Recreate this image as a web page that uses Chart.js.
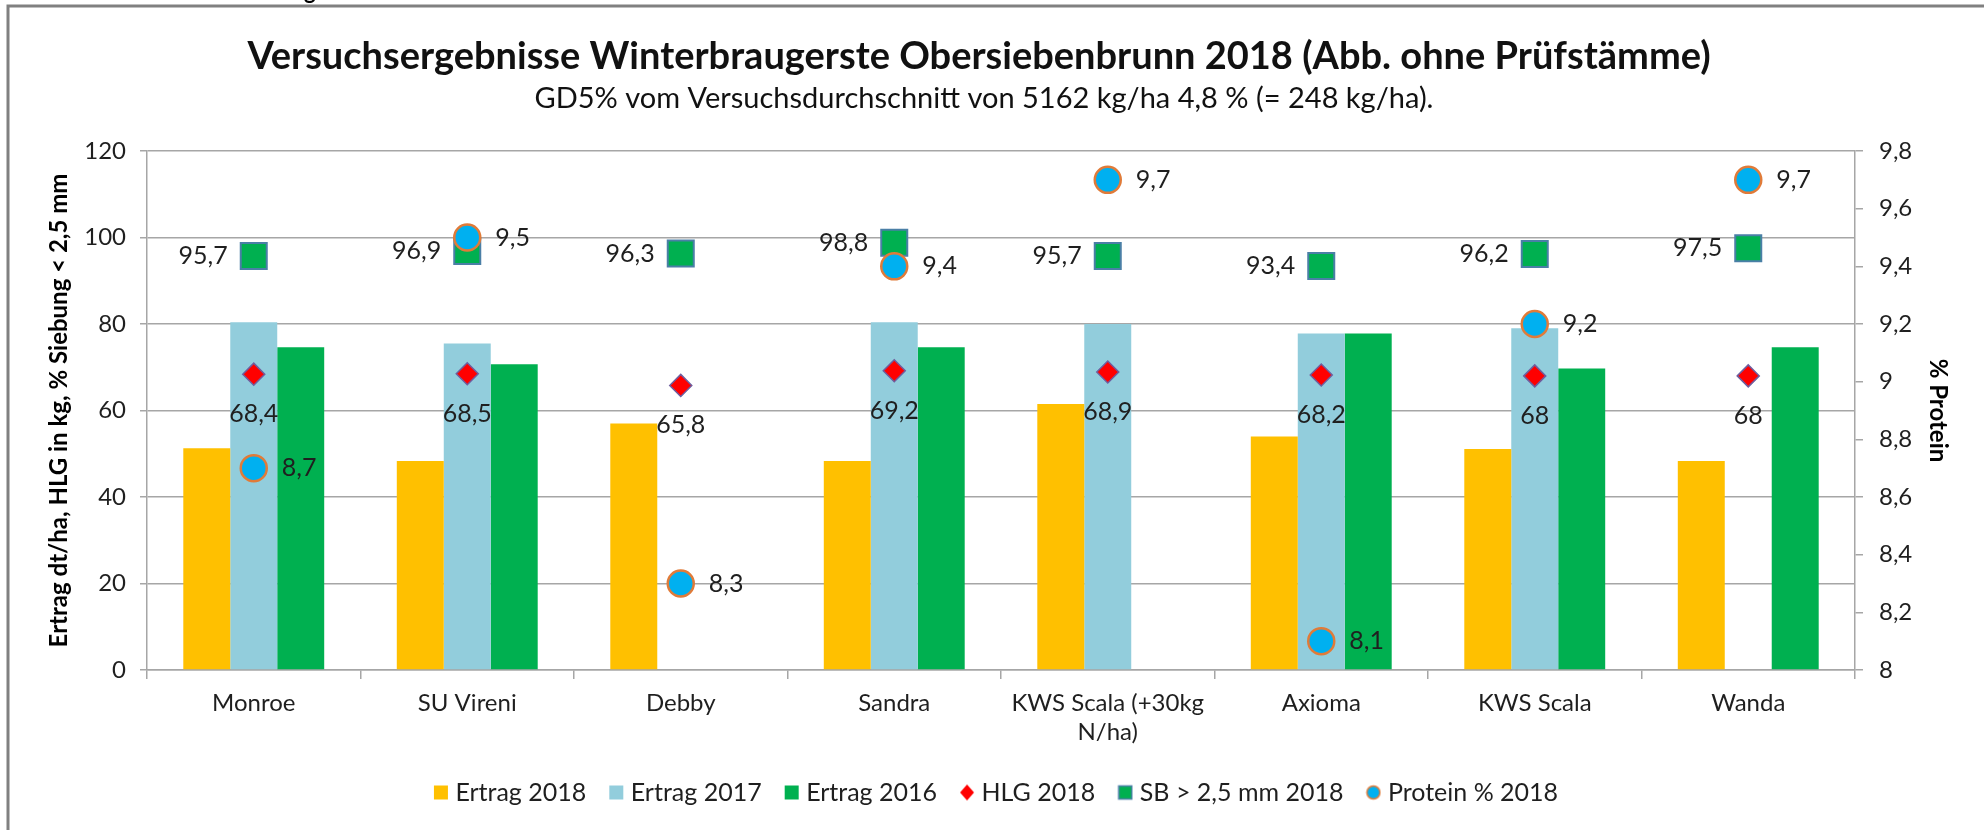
<!DOCTYPE html>
<html>
<head>
<meta charset="utf-8">
<title>Versuchsergebnisse Winterbraugerste Obersiebenbrunn 2018</title>
<script src="https://cdn.jsdelivr.net/npm/chart.js@4/dist/chart.umd.min.js"></script>
<style>
  html, body { margin: 0; padding: 0; background: #fff; }
  #wrap { width: 1984px; height: 830px; }
</style>
</head>
<body>
<div id="wrap"><canvas id="myChart" width="1984" height="830"></canvas></div>
<script>
// Sorten (Kategorien)
const categories = ["Monroe", "SU Vireni", "Debby", "Sandra", ["KWS Scala (+30kg", "N/ha)"], "Axioma", "KWS Scala", "Wanda"];

// Ertrag in dt/ha (linke Achse)
const ertrag2018 = [51.3, 48.3, 57.0, 48.3, 61.5, 54.0, 51.1, 48.3];
const ertrag2017 = [80.4, 75.5, null, 80.4, 80.0, 77.8, 79.0, null];
const ertrag2016 = [74.6, 70.7, null, 74.6, null, 77.8, 69.7, 74.6];

// HLG in kg und Siebung > 2,5 mm (linke Achse)
const hlg2018 = [68.4, 68.5, 65.8, 69.2, 68.9, 68.2, 68, 68];
const sb2018 = [95.7, 96.9, 96.3, 98.8, 95.7, 93.4, 96.2, 97.5];

// Protein % (rechte Achse)
const protein2018 = [8.7, 9.5, 8.3, 9.4, 9.7, 8.1, 9.2, 9.7];

const FONT = "Lato, 'Liberation Sans', sans-serif";
const TEXT = "#1f1f1f";
const GRID = "#a6a6a6";

// deutsches Zahlenformat
function fmt(v) {
    return String(Math.round(v * 10) / 10).replace(".", ",");
}

// kleine Symbole für die Legende
function legendIcon(kind, fill, stroke) {
    const c = document.createElement("canvas");
    c.width = 16;
    c.height = 18;
    const g = c.getContext("2d");
    g.fillStyle = fill;
    g.strokeStyle = stroke || fill;
    g.lineWidth = 1.5;
    if (kind === "bar") {
        g.fillRect(1, 2, 14, 14);
    } else if (kind === "square") {
        g.fillRect(1, 2, 14, 14);
        g.strokeRect(1.5, 2.5, 13, 13);
    } else if (kind === "diamond") {
        g.beginPath();
        g.moveTo(8, 1); g.lineTo(15, 9); g.lineTo(8, 17); g.lineTo(1, 9);
        g.closePath();
        g.fill();
    } else {
        g.beginPath();
        g.arc(8, 9, 6.5, 0, Math.PI * 2);
        g.fill();
        g.stroke();
    }
    return c;
}

const icons = [
    legendIcon("bar", "#ffc000"),
    legendIcon("bar", "#92cddc"),
    legendIcon("bar", "#00b050"),
    legendIcon("diamond", "#ff0000"),
    legendIcon("square", "#00b050", "#4a7fa6"),
    legendIcon("circle", "#00b0f0", "#e07b39")
];

// Überschrift, Rahmen und Datenbeschriftungen
const extras = {
    id: "extras",
    beforeDraw(chart) {
        const ctx = chart.ctx;
        ctx.save();
        ctx.fillStyle = "#fff";
        ctx.fillRect(0, 0, chart.width, chart.height);
        // abgeschnittener Rest der Zeile darüber
        ctx.fillStyle = "#000";
        ctx.font = "bold 22px " + FONT;
        ctx.textAlign = "left";
        ctx.textBaseline = "alphabetic";
        ctx.fillText("g", 304, -1);
        ctx.strokeStyle = "#808080";
        ctx.lineWidth = 3;
        ctx.strokeRect(8, 6, 2100, 900);
        ctx.restore();
    },
    afterDraw(chart) {
        const ctx = chart.ctx;
        ctx.save();
        ctx.fillStyle = "#111";
        ctx.textAlign = "center";
        ctx.textBaseline = "middle";
        ctx.font = "bold 38px " + FONT;
        ctx.fillText("Versuchsergebnisse Winterbraugerste Obersiebenbrunn 2018 (Abb. ohne Prüfstämme)", 979, 57);
        ctx.font = "29px " + FONT;
        ctx.fillText("GD5% vom Versuchsdurchschnitt von 5162 kg/ha 4,8 % (= 248 kg/ha).", 984, 99);
        ctx.restore();
    },
    afterDatasetsDraw(chart) {
        const ctx = chart.ctx;
        ctx.save();
        ctx.font = "25px " + FONT;
        ctx.fillStyle = TEXT;
        ctx.textBaseline = "middle";
        chart.data.datasets.forEach((ds, i) => {
            if (!ds.labelPos) return;
            const meta = chart.getDatasetMeta(i);
            meta.data.forEach((pt, j) => {
                const v = ds.data[j];
                if (v === null || v === undefined) return;
                const t = fmt(v);
                if (ds.labelPos === "left") {
                    ctx.textAlign = "right";
                    ctx.fillText(t, pt.x - 26, pt.y);
                } else if (ds.labelPos === "right") {
                    ctx.textAlign = "left";
                    ctx.fillText(t, pt.x + 28, pt.y);
                } else {
                    ctx.textAlign = "center";
                    ctx.fillText(t, pt.x, pt.y + 40);
                }
            });
        });
        ctx.restore();
    }
};

const ctx = document.getElementById("myChart").getContext("2d");

const myChart = new Chart(ctx, {
    type: "bar",
    data: {
        labels: categories,
        datasets: [
            { label: "Ertrag 2018", data: ertrag2018, backgroundColor: "#ffc000", order: 2, yAxisID: "y" },
            { label: "Ertrag 2017", data: ertrag2017, backgroundColor: "#92cddc", order: 2, yAxisID: "y" },
            { label: "Ertrag 2016", data: ertrag2016, backgroundColor: "#00b050", order: 2, yAxisID: "y" },
            {
                type: "line", label: "HLG 2018", data: hlg2018, yAxisID: "y", order: 1,
                showLine: false, pointStyle: "rectRot", pointRadius: 11,
                backgroundColor: "#ff0000", borderColor: "#6f5e9e", pointBorderWidth: 1.5,
                labelPos: "below"
            },
            {
                type: "line", label: "SB > 2,5 mm 2018", data: sb2018, yAxisID: "y", order: 1,
                showLine: false, pointStyle: "rect", pointRadius: 18.4,
                backgroundColor: "#00b050", borderColor: "#4a7fa6", pointBorderWidth: 2,
                labelPos: "left"
            },
            {
                type: "line", label: "Protein % 2018", data: protein2018, yAxisID: "y1", order: 0,
                showLine: false, pointStyle: "circle", pointRadius: 13,
                backgroundColor: "#00b0f0", borderColor: "#e07b39", pointBorderWidth: 2.5,
                labelPos: "right"
            }
        ]
    },
    options: {
        responsive: false,
        animation: false,
        events: [],
        layout: { padding: { top: 151, left: 43, right: 30, bottom: 15 } },
        datasets: {
            bar: { categoryPercentage: 0.66, barPercentage: 1, borderWidth: 0 }
        },
        scales: {
            x: {
                afterFit(scale) { scale.height = 82; },
                grid: { drawOnChartArea: false, color: GRID, lineWidth: 1.5, tickLength: 9 },
                border: { color: GRID, width: 1.5 },
                ticks: { color: TEXT, font: { family: FONT, size: 24 }, padding: 10, maxRotation: 0, autoSkip: false }
            },
            y: {
                position: "left",
                min: 0, max: 120,
                afterFit(scale) { scale.width = 104; },
                ticks: { stepSize: 20, color: TEXT, font: { family: FONT, size: 24 }, padding: 14 },
                grid: { color: GRID, lineWidth: 1.5, tickLength: 7 },
                border: { color: GRID, width: 1.5 },
                title: {
                    display: true,
                    text: "Ertrag dt/ha, HLG in kg, % Siebung < 2,5 mm",
                    color: "#000",
                    font: { family: FONT, size: 24, weight: "bold" },
                    padding: { top: 2, bottom: 2 }
                }
            },
            y1: {
                position: "right",
                min: 8, max: 9.8,
                afterFit(scale) { scale.width = 99; },
                ticks: { stepSize: 0.2, color: TEXT, font: { family: FONT, size: 24 }, padding: 16, callback: v => fmt(v) },
                grid: { drawOnChartArea: false, color: GRID, lineWidth: 1.5, tickLength: 8 },
                border: { color: GRID, width: 1.5 },
                title: {
                    display: true,
                    text: "% Protein",
                    color: "#000",
                    font: { family: FONT, size: 24, weight: "bold" },
                    padding: { top: 2, bottom: 2 }
                }
            }
        },
        plugins: {
            title: { display: false },
            tooltip: { enabled: false },
            legend: {
                position: "bottom",
                labels: {
                    usePointStyle: true,
                    boxWidth: 4,
                    boxHeight: 22,
                    padding: 28,
                    color: TEXT,
                    font: { family: FONT, size: 25 },
                    sort: (a, b) => a.datasetIndex - b.datasetIndex,
                    generateLabels(chart) {
                        const items = Chart.defaults.plugins.legend.labels.generateLabels(chart);
                        items.forEach(it => { it.pointStyle = icons[it.datasetIndex]; it.lineWidth = 0; });
                        return items;
                    }
                }
            }
        }
    },
    plugins: [extras]
});
</script>
</body>
</html>
